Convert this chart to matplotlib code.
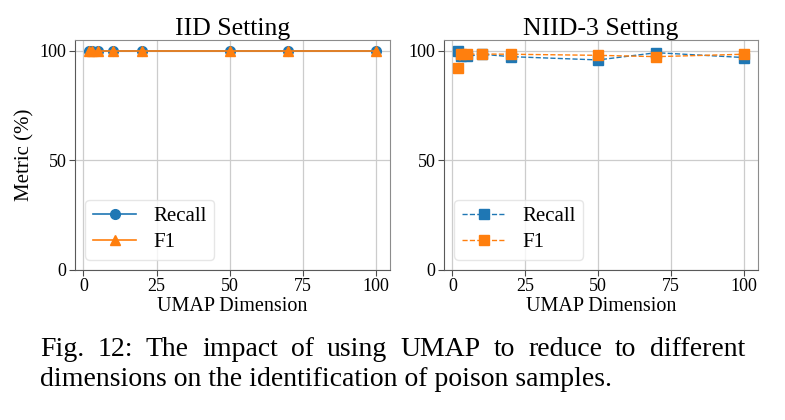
import numpy as np
import matplotlib
matplotlib.use("Agg")
import matplotlib.pyplot as plt

plt.rcParams["font.family"] = ["Liberation Serif", "DejaVu Serif"]

# UMAP dimensions and metrics (%)
dims = [2, 3, 5, 10, 20, 50, 70, 100]
iid_recall = [100, 100, 100, 100, 100, 100, 100, 100]
iid_f1 = [100, 100, 100, 100, 100, 100, 100, 100]
niid_recall = [100, 97.5, 97.5, 98.5, 97.4, 95.9, 99.2, 97.0]
niid_f1 = [92.3, 98.5, 98.5, 98.6, 98.5, 98.0, 97.4, 98.5]

titles = ["IID Setting", "NIID-3 Setting"]
caption1 = "Fig. 12: The impact of using UMAP to reduce to different"
caption2 = "dimensions on the identification of poison samples."

blue = "#1f77b4"
orange = "#ff7f0e"

fig = plt.figure(figsize=(7.85, 4.2), dpi=100)
ax1 = fig.add_axes([75 / 785, 150 / 420, 315 / 785, 230 / 420])
ax2 = fig.add_axes([444 / 785, 150 / 420, 314 / 785, 230 / 420])

# IID panel
ax1.plot(dims, iid_recall, "-o", color=blue, ms=7, lw=1.2, label="Recall")
ax1.plot(dims, iid_f1, "-^", color=orange, ms=7, lw=1.2, label="F1")
ax1.set_ylabel("Metric (%)", fontsize=15, labelpad=4)

# NIID-3 panel
ax2.plot(dims, niid_recall, "--s", color=blue, ms=7, lw=1.0, label="Recall")
ax2.plot(dims, niid_f1, "--s", color=orange, ms=7, lw=1.0, label="F1")

for ax, title in zip([ax1, ax2], titles):
    ax.set_title(title, fontsize=18.5, pad=3)
    ax.set_ylim(0, 105)
    ax.set_xticks([0, 25, 50, 75, 100])
    ax.set_yticks([0, 50, 100])
    ax.tick_params(labelsize=13, length=4, pad=2, color="0.3")
    ax.grid(True, color="0.8", lw=0.9)
    ax.set_axisbelow(True)
    ax.set_xlabel("UMAP Dimension", fontsize=14.5, labelpad=1)
    for side in ["left", "bottom"]:
        ax.spines[side].set_color("0.35")
    for side in ["top", "right"]:
        ax.spines[side].set_color("0.55")
    leg = ax.legend(loc="lower left", fontsize=15, borderpad=0.35,
                    labelspacing=0.3, handlelength=2.1, handletextpad=0.8,
                    fancybox=True)
    leg.get_frame().set_edgecolor("0.88")

# caption, first line justified
fig.canvas.draw()
renderer = fig.canvas.get_renderer()
words = caption1.split()
x0, x1 = 40 / 785, 745 / 785
y1 = 1 - 349 / 420
texts = [fig.text(0, y1, w, fontsize=20, va="center") for w in words]
widths = [t.get_window_extent(renderer).width / fig.bbox.width for t in texts]
gap = (x1 - x0 - sum(widths)) / (len(words) - 1)
x = x0
for t, w in zip(texts, widths):
    t.set_x(x)
    x += w + gap
fig.text(x0, 1 - 380 / 420, caption2, fontsize=20, va="center")

fig.savefig("out.png", dpi=100)
